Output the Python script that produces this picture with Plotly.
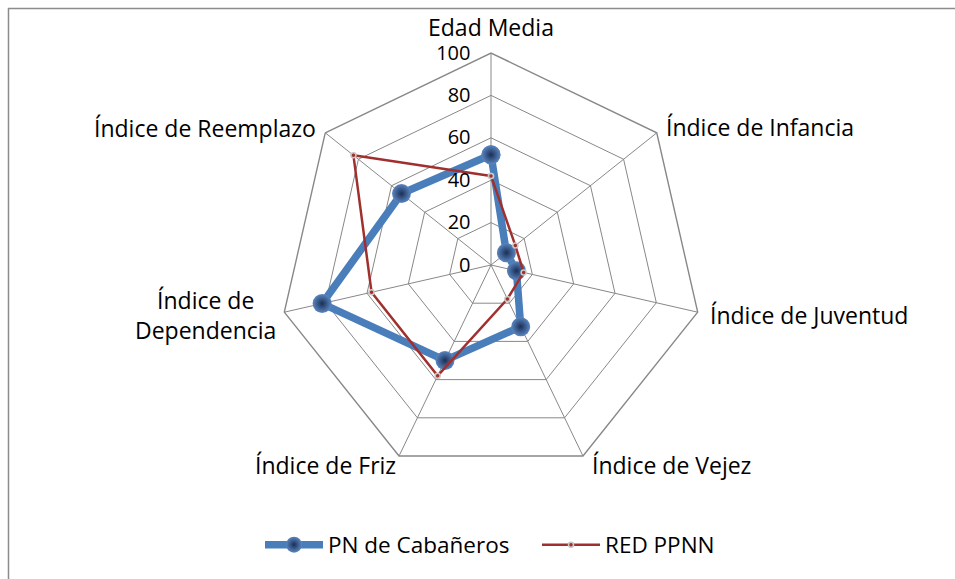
import plotly.graph_objects as go

categories = ["Edad Media", "Índice de Infancia", "Índice de Juventud", "Índice de Vejez",
              "Índice de Friz", "Índice de Dependencia", "Índice de Reemplazo"]
axis_labels = ["Edad Media", "Índice de Infancia", "Índice de Juventud", "Índice de Vejez",
               "Índice de Friz", "Índice de<br>Dependencia", "Índice de Reemplazo"]
pn_cabaneros = [52, 9.3, 12.3, 32.3, 50, 81.7, 54]
red_ppnn = [42, 14.7, 15.8, 17.8, 58, 57.8, 83]
radial_ticks = [0, 20, 40, 60, 80, 100]

W, H = 955, 579
cx, cy, R = 491, 265, 212

FONT = "Open Sans"

fig = go.Figure()
fig.add_trace(go.Scatterpolar(
    r=pn_cabaneros + pn_cabaneros[:1], theta=categories + categories[:1],
    mode="lines+markers", name="PN de Cabañeros",
    line=dict(color="#4A7EBB", width=7.5),
    marker=dict(size=19, color="#5A86C0", line=dict(width=0),
                gradient=dict(type="radial", color="#1A2F57")),
))
fig.add_trace(go.Scatterpolar(
    r=red_ppnn + red_ppnn[:1], theta=categories + categories[:1],
    mode="lines+markers", name="RED PPNN",
    line=dict(color="#A0302D", width=2.5),
    marker=dict(size=5, color="#A0302D", line=dict(width=1.5, color="#C8C8C8")),
))

grid = "#888888"
fig.update_layout(
    width=W, height=H,
    margin=dict(l=0, r=0, t=0, b=0, autoexpand=False),
    paper_bgcolor="white", plot_bgcolor="white",
    font=dict(family=FONT, color="#000000"),
    showlegend=True,
    legend=dict(orientation="h", x=260 / W, xanchor="left", y=1 - 545 / H,
                yanchor="middle", entrywidth=204, entrywidthmode="pixels",
                font=dict(family=FONT, size=22.5, color="#000"), itemwidth=58,
                traceorder="normal", bgcolor="rgba(0,0,0,0)"),
    polar=dict(
        domain=dict(x=[(cx - R) / W, (cx + R) / W], y=[(H - cy - R) / H, (H - cy + R) / H]),
        gridshape="linear",
        bgcolor="white",
        radialaxis=dict(range=[0, 100], tickvals=radial_ticks, angle=90, side="counterclockwise",
                        showline=False, ticks="outside", ticklen=13, tickcolor="rgba(0,0,0,0)",
                        gridcolor=grid, gridwidth=1.4,
                        tickfont=dict(family=FONT, size=20, color="#000"), tickangle=90),
        angularaxis=dict(direction="clockwise", rotation=90, showticklabels=False, ticks="",
                         showline=True, linecolor=grid, linewidth=1.4,
                         gridcolor=grid, gridwidth=1.4),
    ),
)

# axis category labels (pixel positions)
label_pos = [
    (491, 27, "center"),
    (664, 127, "left"),
    (708, 315, "left"),
    (590, 465, "left"),
    (398, 465, "right"),
    (205, 315, "center"),
    (318, 128, "right"),
]
for (x, y, anc), txt in zip(label_pos, axis_labels):
    fig.add_annotation(x=x / W, y=1 - y / H, xref="paper", yref="paper", text=txt,
                       showarrow=False, xanchor=anc, yanchor="middle", align="center",
                       font=dict(family=FONT, size=23, color="#000"))

# outer chart border (left and top edges visible)
fig.add_shape(type="line", xref="paper", yref="paper", x0=8.5 / W, x1=8.5 / W, y0=0, y1=1 - 8 / H,
              line=dict(color="#8C8C8C", width=1.5))
fig.add_shape(type="line", xref="paper", yref="paper", x0=8 / W, x1=1, y0=1 - 8.5 / H, y1=1 - 8.5 / H,
              line=dict(color="#8C8C8C", width=1.5))

fig.write_html("out.html", config={"displayModeBar": False},
               post_script="document.body.style.margin='0';document.body.style.overflow='hidden';")
